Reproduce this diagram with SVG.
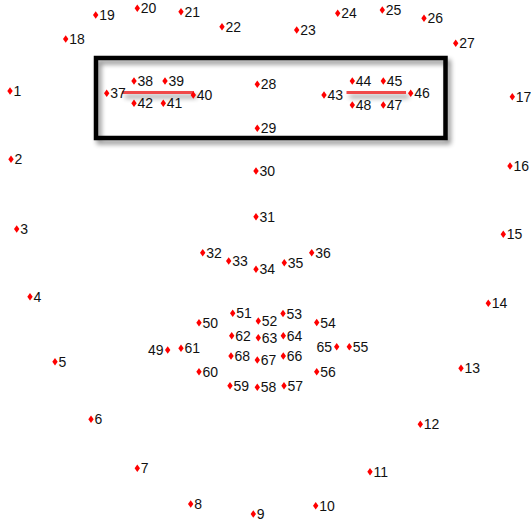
<svg xmlns="http://www.w3.org/2000/svg" xmlns:xlink="http://www.w3.org/1999/xlink" width="531" height="523" viewBox="0 0 531 523">
<defs>
<style>
text{font-family:"Liberation Sans",Arial,sans-serif;font-size:14px;fill:#111}
.l{text-anchor:end}
.m{fill:#ff0000}
.box{fill:none;stroke:#000;stroke-width:4.5}
.eye{fill:#f04848}
</style>
<path id="d" d="M0,-3.8 L2.7,0 L0,3.8 L-2.7,0 Z"/>
<filter id="sh" filterUnits="userSpaceOnUse" x="0" y="0" width="531" height="523">
<feGaussianBlur in="SourceAlpha" stdDeviation="2.5"/>
<feOffset dx="3" dy="4" result="b"/>
<feComponentTransfer><feFuncA type="linear" slope="0.45"/></feComponentTransfer>
<feMerge><feMergeNode/><feMergeNode in="SourceGraphic"/></feMerge>
</filter>
</defs>
<rect width="531" height="523" fill="#fff"/>
<g id="connectors">
<rect class="box" x="96" y="58" width="349.5" height="80" filter="url(#sh)"/>
<rect class="eye" x="122" y="91" width="72" height="3" filter="url(#sh)"/>
<rect class="eye" x="346.5" y="91" width="59.5" height="3" filter="url(#sh)"/>
</g>
<g id="n1"><use class="m" xlink:href="#d" x="10" y="91"/><text x="13.5" y="96">1</text></g>
<g id="n2"><use class="m" xlink:href="#d" x="11" y="159.3"/><text x="14.5" y="164.3">2</text></g>
<g id="n3"><use class="m" xlink:href="#d" x="16.7" y="229"/><text x="20.2" y="234">3</text></g>
<g id="n4"><use class="m" xlink:href="#d" x="30" y="296.7"/><text x="33.5" y="301.7">4</text></g>
<g id="n5"><use class="m" xlink:href="#d" x="55" y="361.7"/><text x="58.5" y="366.7">5</text></g>
<g id="n6"><use class="m" xlink:href="#d" x="91" y="419.3"/><text x="94.5" y="424.3">6</text></g>
<g id="n7"><use class="m" xlink:href="#d" x="137.3" y="468.3"/><text x="140.8" y="473.3">7</text></g>
<g id="n8"><use class="m" xlink:href="#d" x="190.7" y="504"/><text x="194.2" y="509">8</text></g>
<g id="n9"><use class="m" xlink:href="#d" x="253.3" y="514"/><text x="256.8" y="519">9</text></g>
<g id="n10"><use class="m" xlink:href="#d" x="315.7" y="505.7"/><text x="319.2" y="510.7">10</text></g>
<g id="n11"><use class="m" xlink:href="#d" x="370" y="471.7"/><text x="373.5" y="476.7">11</text></g>
<g id="n12"><use class="m" xlink:href="#d" x="420.3" y="424.3"/><text x="423.8" y="429.3">12</text></g>
<g id="n13"><use class="m" xlink:href="#d" x="461" y="368.3"/><text x="464.5" y="373.3">13</text></g>
<g id="n14"><use class="m" xlink:href="#d" x="488.3" y="303.3"/><text x="491.8" y="308.3">14</text></g>
<g id="n15"><use class="m" xlink:href="#d" x="503.3" y="234.3"/><text x="506.8" y="239.3">15</text></g>
<g id="n16"><use class="m" xlink:href="#d" x="510" y="166"/><text x="513.5" y="171">16</text></g>
<g id="n17"><use class="m" xlink:href="#d" x="512.3" y="96.7"/><text x="515.8" y="101.7">17</text></g>
<g id="n18"><use class="m" xlink:href="#d" x="65.7" y="39"/><text x="69.2" y="44">18</text></g>
<g id="n19"><use class="m" xlink:href="#d" x="95.7" y="15"/><text x="99.2" y="20">19</text></g>
<g id="n20"><use class="m" xlink:href="#d" x="137.3" y="8.3"/><text x="140.8" y="13.3">20</text></g>
<g id="n21"><use class="m" xlink:href="#d" x="181" y="11.7"/><text x="184.5" y="16.7">21</text></g>
<g id="n22"><use class="m" xlink:href="#d" x="222" y="26.7"/><text x="225.5" y="31.7">22</text></g>
<g id="n23"><use class="m" xlink:href="#d" x="296.7" y="30"/><text x="300.2" y="35">23</text></g>
<g id="n24"><use class="m" xlink:href="#d" x="337.7" y="13.3"/><text x="341.2" y="18.3">24</text></g>
<g id="n25"><use class="m" xlink:href="#d" x="382.3" y="10"/><text x="385.8" y="15">25</text></g>
<g id="n26"><use class="m" xlink:href="#d" x="424" y="18.3"/><text x="427.5" y="23.3">26</text></g>
<g id="n27"><use class="m" xlink:href="#d" x="455.7" y="43.3"/><text x="459.2" y="48.3">27</text></g>
<g id="n28"><use class="m" xlink:href="#d" x="257.3" y="84.3"/><text x="260.8" y="89.3">28</text></g>
<g id="n29"><use class="m" xlink:href="#d" x="257.3" y="128.3"/><text x="260.8" y="133.3">29</text></g>
<g id="n30"><use class="m" xlink:href="#d" x="256" y="171"/><text x="259.5" y="176">30</text></g>
<g id="n31"><use class="m" xlink:href="#d" x="256" y="216.7"/><text x="259.5" y="221.7">31</text></g>
<g id="n32"><use class="m" xlink:href="#d" x="202.7" y="252.7"/><text x="206.2" y="257.7">32</text></g>
<g id="n33"><use class="m" xlink:href="#d" x="228.7" y="261"/><text x="232.2" y="266">33</text></g>
<g id="n34"><use class="m" xlink:href="#d" x="256" y="269.3"/><text x="259.5" y="274.3">34</text></g>
<g id="n35"><use class="m" xlink:href="#d" x="284.3" y="262.7"/><text x="287.8" y="267.7">35</text></g>
<g id="n36"><use class="m" xlink:href="#d" x="311.7" y="252.7"/><text x="315.2" y="257.7">36</text></g>
<g id="n37"><use class="m" xlink:href="#d" x="106.7" y="93.3"/><text x="110.2" y="98.3">37</text></g>
<g id="n38"><use class="m" xlink:href="#d" x="134" y="81"/><text x="137.5" y="86">38</text></g>
<g id="n39"><use class="m" xlink:href="#d" x="165" y="81"/><text x="168.5" y="86">39</text></g>
<g id="n40"><use class="m" xlink:href="#d" x="193.3" y="95"/><text x="196.8" y="100">40</text></g>
<g id="n41"><use class="m" xlink:href="#d" x="163.3" y="103.3"/><text x="166.8" y="108.3">41</text></g>
<g id="n42"><use class="m" xlink:href="#d" x="134" y="103.3"/><text x="137.5" y="108.3">42</text></g>
<g id="n43"><use class="m" xlink:href="#d" x="324" y="95"/><text x="327.5" y="100">43</text></g>
<g id="n44"><use class="m" xlink:href="#d" x="352.3" y="81"/><text x="355.8" y="86">44</text></g>
<g id="n45"><use class="m" xlink:href="#d" x="383.3" y="81"/><text x="386.8" y="86">45</text></g>
<g id="n46"><use class="m" xlink:href="#d" x="410.7" y="93.3"/><text x="414.2" y="98.3">46</text></g>
<g id="n47"><use class="m" xlink:href="#d" x="383.3" y="105"/><text x="386.8" y="110">47</text></g>
<g id="n48"><use class="m" xlink:href="#d" x="352.3" y="105"/><text x="355.8" y="110">48</text></g>
<g id="n49"><use class="m" xlink:href="#d" x="167.7" y="350"/><text class="l" x="163.5" y="355">49</text></g>
<g id="n50"><use class="m" xlink:href="#d" x="199" y="322.7"/><text x="202.5" y="327.7">50</text></g>
<g id="n51"><use class="m" xlink:href="#d" x="232.7" y="313.3"/><text x="236.2" y="318.3">51</text></g>
<g id="n52"><use class="m" xlink:href="#d" x="258.3" y="321"/><text x="261.8" y="326">52</text></g>
<g id="n53"><use class="m" xlink:href="#d" x="283" y="313.5"/><text x="286.5" y="318.5">53</text></g>
<g id="n54"><use class="m" xlink:href="#d" x="316.7" y="322.5"/><text x="320.2" y="327.5">54</text></g>
<g id="n55"><use class="m" xlink:href="#d" x="349.3" y="346.7"/><text x="352.8" y="351.7">55</text></g>
<g id="n56"><use class="m" xlink:href="#d" x="316.7" y="371.7"/><text x="320.2" y="376.7">56</text></g>
<g id="n57"><use class="m" xlink:href="#d" x="284" y="385.7"/><text x="287.5" y="390.7">57</text></g>
<g id="n58"><use class="m" xlink:href="#d" x="257.3" y="387.3"/><text x="260.8" y="392.3">58</text></g>
<g id="n59"><use class="m" xlink:href="#d" x="230" y="385.7"/><text x="233.5" y="390.7">59</text></g>
<g id="n60"><use class="m" xlink:href="#d" x="199" y="371.7"/><text x="202.5" y="376.7">60</text></g>
<g id="n61"><use class="m" xlink:href="#d" x="181" y="348.3"/><text x="184.5" y="353.3">61</text></g>
<g id="n62"><use class="m" xlink:href="#d" x="231.7" y="335.7"/><text x="235.2" y="340.7">62</text></g>
<g id="n63"><use class="m" xlink:href="#d" x="258.3" y="337.7"/><text x="261.8" y="342.7">63</text></g>
<g id="n64"><use class="m" xlink:href="#d" x="283.3" y="335.7"/><text x="286.8" y="340.7">64</text></g>
<g id="n65"><use class="m" xlink:href="#d" x="336.7" y="346.7"/><text class="l" x="332" y="351.7">65</text></g>
<g id="n66"><use class="m" xlink:href="#d" x="283.3" y="356"/><text x="286.8" y="361">66</text></g>
<g id="n67"><use class="m" xlink:href="#d" x="257.3" y="360"/><text x="260.8" y="365">67</text></g>
<g id="n68"><use class="m" xlink:href="#d" x="231" y="356"/><text x="234.5" y="361">68</text></g>
</svg>
